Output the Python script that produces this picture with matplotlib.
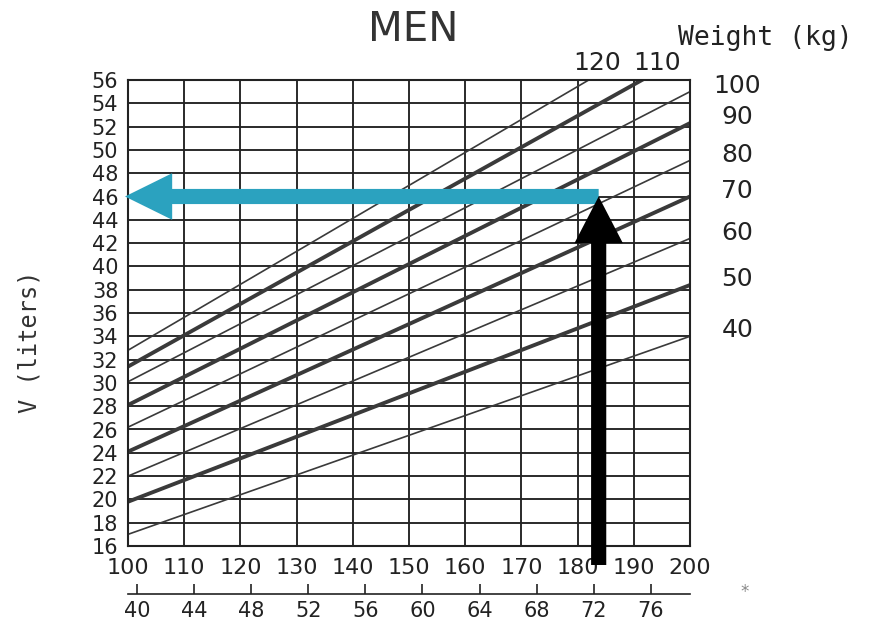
import numpy as np
import matplotlib
matplotlib.use("Agg")
import matplotlib.pyplot as plt

# Body-water nomogram for men: each line is one body weight,
# giving total body water V (liters) against height (cm).
weights_kg = [40, 50, 60, 70, 80, 90, 100, 110, 120]
v_at_100cm = [17.0, 19.8, 22.0, 24.1, 26.2, 28.1, 30.1, 31.4, 32.8]
v_at_200cm = [34.0, 38.4, 42.4, 46.0, 49.1, 52.3, 55.0, 58.3, 61.1]
heavy_weights = [50, 70, 90, 110]

height_ticks_cm = list(range(100, 201, 10))
volume_ticks_l = list(range(16, 57, 2))
height_ticks_in = list(range(40, 77, 4))

# worked example: height 184 cm reads off to about 46 liters
example_height_cm = 183.75
example_volume_l = 46.0

INK = "#222222"
LINE = "#3a3a3a"
TEAL = "#2ba2bf"

fig = plt.figure(figsize=(8.72, 6.21), dpi=100)
ax = fig.add_axes([128 / 872, 1 - 546 / 621, 562 / 872, 466 / 621])
ax.set_xlim(100, 200)
ax.set_ylim(16, 56)

# grid
for x in height_ticks_cm:
    ax.axvline(x, color=INK, lw=1.35, zorder=1)
for y in volume_ticks_l:
    ax.axhline(y, color=INK, lw=1.35, zorder=1)

# weight lines
for w, v0, v1 in zip(weights_kg, v_at_100cm, v_at_200cm):
    lw = 2.8 if w in heavy_weights else 1.2
    ax.plot([100, 200], [v0, v1], color=LINE, lw=lw, zorder=2,
            solid_capstyle="butt")

# weight labels at the right edge and along the top
for w, v1 in zip(weights_kg, v_at_200cm):
    if v1 <= 56:
        ax.text(208.4, v1 + 0.5, str(w), ha="center", va="center",
                fontsize=18, color=INK, clip_on=False)
ax.text(183.4, 57.5, "120", ha="center", va="center", fontsize=18,
        color=INK, clip_on=False)
ax.text(194.1, 57.5, "110", ha="center", va="center", fontsize=18,
        color=INK, clip_on=False)

for s in ax.spines.values():
    s.set_color(INK)
    s.set_linewidth(1.5)

ax.set_xticks(height_ticks_cm)
ax.set_yticks(volume_ticks_l)
ax.tick_params(axis="both", length=0, colors=INK)
ax.tick_params(axis="x", labelsize=16, pad=9)
ax.tick_params(axis="y", labelsize=15, pad=7)

# inch scale under the centimetre scale
sec = ax.secondary_xaxis(-0.104, functions=(lambda c: c / 2.54,
                                            lambda i: i * 2.54))
sec.set_xticks(height_ticks_in)
sec.tick_params(direction="in", length=7, width=1.2, colors=INK,
                labelsize=15, pad=5)
sec.spines["bottom"].set_color(INK)
sec.spines["bottom"].set_linewidth(1.2)

# example arrows
ax.arrow(example_height_cm, example_volume_l, 99.46 - example_height_cm, 0,
         width=1.3, head_width=4.0, head_length=8.4,
         length_includes_head=True, color=TEAL, lw=0, zorder=5,
         clip_on=False)
ax.arrow(example_height_cm, 14.37, 0, example_volume_l - 14.37,
         width=2.7, head_width=8.6, head_length=4.0,
         length_includes_head=True, color="black", lw=0, zorder=6,
         clip_on=False)

fig.text(413 / 872, 1 - 30 / 621, "MEN", ha="center", va="center",
         fontsize=29, color="#333333")
fig.text(765 / 872, 1 - 38 / 621, "Weight (kg)", ha="center", va="center",
         fontsize=19, color=INK, family="DejaVu Sans Mono")
fig.text(30 / 872, 1 - 342 / 621, "V (liters)", ha="center", va="center",
         rotation=90, fontsize=17, color="#333333", family="DejaVu Sans Mono")
fig.text(745 / 872, 1 - 592 / 621, "*", ha="center", va="center",
         fontsize=12, color="#888888")

fig.savefig("out.png", dpi=100, facecolor="white")
